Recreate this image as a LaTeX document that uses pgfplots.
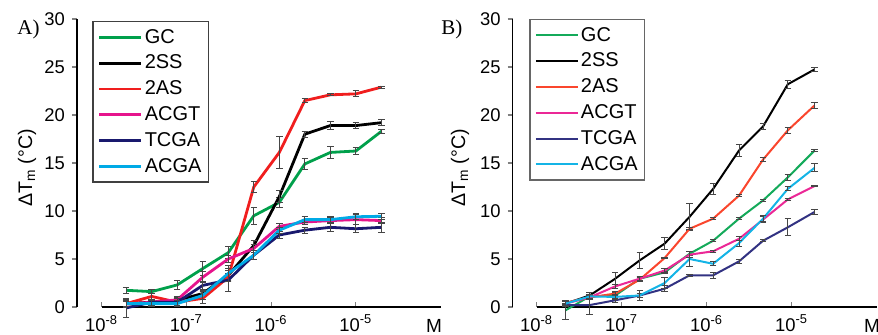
\documentclass[border=0pt]{standalone}
\usepackage{fontspec}
\setmainfont{Liberation Sans}
\newfontfamily\seriffont{Liberation Serif}
\usepackage{pgfplots}
\usepackage{pgfplotstable}
\pgfplotsset{compat=1.18}

\definecolor{cGC}{RGB}{0,160,75}
\definecolor{cSS}{RGB}{0,0,0}
\definecolor{cAS}{RGB}{240,30,30}
\definecolor{cACGT}{RGB}{230,20,140}
\definecolor{cTCGA}{RGB}{25,25,110}
\definecolor{cACGA}{RGB}{0,170,230}
\definecolor{bGC}{RGB}{20,170,90}
\definecolor{bAS}{RGB}{250,70,45}
\definecolor{bACGT}{RGB}{235,40,150}
\definecolor{bTCGA}{RGB}{50,50,130}
\definecolor{bACGA}{RGB}{20,180,230}
\definecolor{errc}{RGB}{70,70,70}

\pgfplotstableread{
x GC GCe SS SSe AS ASe ACGT ACGTe TCGA TCGAe ACGA ACGAe
1.953e-8 1.74 0.3 0.35 0.3 0.35 0.4 0.3 0.3 -0.1 1.0 0.35 0.3
3.906e-8 1.6 0.2 0.5 0.3 1.1 0.3 0.5 0.3 0.5 0.3 0.35 0.3
7.8125e-8 2.3 0.5 0.7 0.3 0.5 0.3 0.75 0.3 0.5 0.4 0.35 0.3
1.5625e-7 4.0 0.7 1.4 0.3 0.9 0.5 3.1 0.6 2.25 0.4 1.2 0.4
3.125e-7 5.66 0.6 3.3 0.5 3.1 0.4 5.0 0.4 2.8 1.2 3.5 0.8
6.25e-7 9.5 0.9 6.4 0.5 12.5 0.6 6.1 0.4 5.4 0.5 5.4 0.5
1.25e-6 10.9 0.5 11.5 0.6 16.1 1.7 8.4 0.3 7.5 0.4 8.0 0.3
2.5e-6 14.9 0.6 18.0 0.3 21.5 0.2 8.85 0.3 8.0 0.3 9.1 0.3
5e-6 16.1 0.6 18.9 0.4 22.1 0.1 9.0 0.3 8.3 0.4 9.1 0.3
1e-5 16.25 0.4 18.9 0.3 22.2 0.3 9.1 0.5 8.15 0.4 9.4 0.3
2e-5 18.3 0.2 19.2 0.3 22.9 0.1 9.0 0.3 8.3 0.5 9.45 0.3
}\dataA

\pgfplotstableread{
x GC GCe SS SSe AS ASe ACGT ACGTe TCGA TCGAe ACGA ACGAe
2.18e-8 -0.35 1.0 0.35 0.3 0.45 0.2 0.35 0.2 0.2 0.2 0.35 0.2
4.2e-8 1.1 0.2 1.2 0.3 1.0 0.2 1.0 0.2 0.2 1.0 1.1 0.2
8.4e-8 1.2 0.3 2.95 0.6 1.4 0.2 2.15 0.2 0.7 0.2 1.05 0.3
1.63e-7 2.95 0.2 4.86 0.8 2.85 0.2 2.95 0.2 1.2 0.2 1.2 0.5
3.2e-7 3.6 0.1 6.6 0.6 5.1 0.1 3.8 0.2 1.9 0.3 2.5 0.6
6.3e-7 5.55 0.2 9.4 1.4 8.15 0.1 5.45 0.3 3.3 0.1 5.0 0.8
1.19e-6 6.9 0.1 12.3 0.6 9.2 0.1 5.8 0.1 3.3 0.3 4.5 0.2
2.4e-6 9.2 0.1 16.3 0.6 11.6 0.1 7.1 0.2 4.75 0.2 6.65 0.3
4.6e-6 11.1 0.1 18.8 0.3 15.35 0.2 9.1 0.3 6.9 0.1 9.2 0.3
9.0e-6 13.5 0.3 23.2 0.4 18.4 0.3 11.2 0.1 8.3 0.9 12.3 0.2
1.86e-5 16.3 0.1 24.75 0.2 21.0 0.3 12.6 0.1 9.9 0.3 14.5 0.4
}\dataB

\begin{document}
\begin{tikzpicture}
\path[use as bounding box] (0,0) rectangle (439pt,167.5pt);

\begin{axis}[at={(38.5pt,14pt)}, anchor=south west,
    scale only axis, width=181.85pt, height=144pt,
    xmode=log, xmin=5.14e-9, xmax=1e-4, ymin=0, ymax=30,
    ytick={0,5,10,15,20,25,30},
    axis y line*=left, axis x line*=bottom,
    x axis line style={draw=none},
    y axis line style={line width=0.6pt},
    xtick={1e-8,1e-7,1e-6,1e-5},
    xticklabels={10\textsuperscript{-8},10\textsuperscript{-7},10\textsuperscript{-6},10\textsuperscript{-5}},
    xminorticks=false, yminorticks=false,
    tick align=outside, major tick length=2.5pt,
    ytick style={line width=0.6pt},
    xtick style={yshift=2.5pt, line width=0.5pt},
    tick label style={font=\fontsize{9.2}{10}\selectfont},
    xticklabel style={yshift=2pt},
    /pgf/number format/assume math mode=true,
    clip=false,
    legend cell align=left,
    no markers,
  legend style={at={(rel axis cs:0.042,0.993)}, anchor=north west, draw=black!75, line width=0.7pt,
    font=\fontsize{10}{12}\selectfont, inner xsep=2.5pt, inner ysep=2pt, row sep=1.2pt,
    nodes={inner sep=1pt, text height=7.7pt, text depth=2pt}},
  legend image code/.code={\draw[#1, line width=1.4pt] (0pt,0pt) -- (21pt,0pt);}]
\draw[line width=0.6pt] (axis cs:1e-8,0) -- (axis cs:1e-4,0);
\addplot[cGC, line width=1.4pt, error bars/.cd, y dir=both, y explicit, error bar style={line width=0.5pt, errc}, error mark options={rotate=90, errc, line width=0.5pt, mark size=1.6pt}] table[x=x, y=GC, y error=GCe] {\dataA};
\addlegendentry{GC}
\addplot[cSS, line width=1.4pt, error bars/.cd, y dir=both, y explicit, error bar style={line width=0.5pt, errc}, error mark options={rotate=90, errc, line width=0.5pt, mark size=1.6pt}] table[x=x, y=SS, y error=SSe] {\dataA};
\addlegendentry{2SS}
\addplot[cAS, line width=1.4pt, error bars/.cd, y dir=both, y explicit, error bar style={line width=0.5pt, errc}, error mark options={rotate=90, errc, line width=0.5pt, mark size=1.6pt}] table[x=x, y=AS, y error=ASe] {\dataA};
\addlegendentry{2AS}
\addplot[cACGT, line width=1.4pt, error bars/.cd, y dir=both, y explicit, error bar style={line width=0.5pt, errc}, error mark options={rotate=90, errc, line width=0.5pt, mark size=1.6pt}] table[x=x, y=ACGT, y error=ACGTe] {\dataA};
\addlegendentry{ACGT}
\addplot[cTCGA, line width=1.4pt, error bars/.cd, y dir=both, y explicit, error bar style={line width=0.5pt, errc}, error mark options={rotate=90, errc, line width=0.5pt, mark size=1.6pt}] table[x=x, y=TCGA, y error=TCGAe] {\dataA};
\addlegendentry{TCGA}
\addplot[cACGA, line width=1.4pt, error bars/.cd, y dir=both, y explicit, error bar style={line width=0.5pt, errc}, error mark options={rotate=90, errc, line width=0.5pt, mark size=1.6pt}] table[x=x, y=ACGA, y error=ACGAe] {\dataA};
\addlegendentry{ACGA}
\end{axis}

\begin{axis}[at={(256.35pt,14pt)}, anchor=south west,
    scale only axis, width=182pt, height=144pt,
    xmode=log, xmin=5.22e-9, xmax=1e-4, ymin=0, ymax=30,
    ytick={0,5,10,15,20,25,30},
    axis y line*=left, axis x line*=bottom,
    x axis line style={draw=none},
    y axis line style={line width=0.6pt},
    xtick={1e-8,1e-7,1e-6,1e-5},
    xticklabels={10\textsuperscript{-8},10\textsuperscript{-7},10\textsuperscript{-6},10\textsuperscript{-5}},
    xminorticks=false, yminorticks=false,
    tick align=outside, major tick length=2.5pt,
    ytick style={line width=0.6pt},
    xtick style={yshift=2.5pt, line width=0.5pt},
    tick label style={font=\fontsize{9.2}{10}\selectfont},
    xticklabel style={yshift=2pt},
    /pgf/number format/assume math mode=true,
    clip=false,
    legend cell align=left,
    no markers,
  legend style={at={(rel axis cs:0.0456,1.0)}, anchor=north west, draw=black!60, line width=0.7pt,
    font=\fontsize{10}{12}\selectfont, inner xsep=2.5pt, inner ysep=2pt, row sep=1.2pt,
    nodes={inner sep=1pt, text height=7.7pt, text depth=2pt}},
  legend image code/.code={\draw[#1, line width=1pt] (0pt,0pt) -- (21pt,0pt);}]
\draw[line width=0.6pt] (axis cs:1e-8,0) -- (axis cs:1e-4,0);
\addplot[bGC, line width=1pt, error bars/.cd, y dir=both, y explicit, error bar style={line width=0.5pt, errc}, error mark options={rotate=90, errc, line width=0.5pt, mark size=1.6pt}] table[x=x, y=GC, y error=GCe] {\dataB};
\addlegendentry{GC}
\addplot[cSS, line width=1pt, error bars/.cd, y dir=both, y explicit, error bar style={line width=0.5pt, errc}, error mark options={rotate=90, errc, line width=0.5pt, mark size=1.6pt}] table[x=x, y=SS, y error=SSe] {\dataB};
\addlegendentry{2SS}
\addplot[bAS, line width=1pt, error bars/.cd, y dir=both, y explicit, error bar style={line width=0.5pt, errc}, error mark options={rotate=90, errc, line width=0.5pt, mark size=1.6pt}] table[x=x, y=AS, y error=ASe] {\dataB};
\addlegendentry{2AS}
\addplot[bACGT, line width=1pt, error bars/.cd, y dir=both, y explicit, error bar style={line width=0.5pt, errc}, error mark options={rotate=90, errc, line width=0.5pt, mark size=1.6pt}] table[x=x, y=ACGT, y error=ACGTe] {\dataB};
\addlegendentry{ACGT}
\addplot[bTCGA, line width=1pt, error bars/.cd, y dir=both, y explicit, error bar style={line width=0.5pt, errc}, error mark options={rotate=90, errc, line width=0.5pt, mark size=1.6pt}] table[x=x, y=TCGA, y error=TCGAe] {\dataB};
\addlegendentry{TCGA}
\addplot[bACGA, line width=1pt, error bars/.cd, y dir=both, y explicit, error bar style={line width=0.5pt, errc}, error mark options={rotate=90, errc, line width=0.5pt, mark size=1.6pt}] table[x=x, y=ACGA, y error=ACGAe] {\dataB};
\addlegendentry{ACGA}
\end{axis}

\node[rotate=90, font=\fontsize{9.8}{11}\selectfont, inner sep=0pt] at (13.5pt,83.5pt) {ΔT\textsubscript{m} (°C)};
\node[rotate=90, font=\fontsize{9.8}{11}\selectfont, inner sep=0pt] at (230pt,83.5pt) {ΔT\textsubscript{m} (°C)};
\node[anchor=west, font=\seriffont\fontsize{10.5}{12}\selectfont, inner sep=0pt] at (8.5pt,153pt) {A)};
\node[anchor=west, font=\seriffont\fontsize{10.5}{12}\selectfont, inner sep=0pt] at (220.5pt,153pt) {B)};
\node[font=\fontsize{9.5}{11}\selectfont, inner sep=0pt] at (217pt,4.5pt) {M};
\node[font=\fontsize{9.5}{11}\selectfont, inner sep=0pt] at (436pt,4.5pt) {M};
\end{tikzpicture}
\end{document}
